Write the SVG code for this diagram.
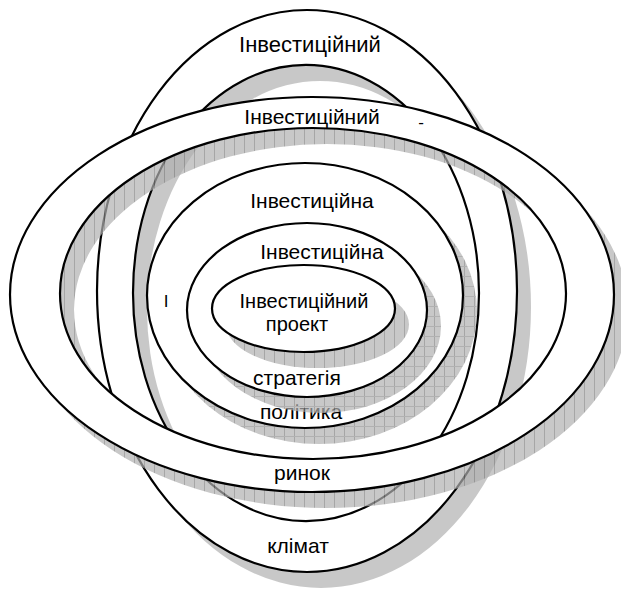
<svg xmlns="http://www.w3.org/2000/svg" xmlns:xlink="http://www.w3.org/1999/xlink" width="621" height="590" viewBox="0 0 621 590">
  <style>
    .ring { fill: #ffffff; fill-rule: evenodd; stroke: #000000; stroke-width: 2.2; }
    .shadow-plain { fill: #b0b0b0; fill-rule: evenodd; stroke: none; opacity: 0.7; }
    .shadow-vert { fill: url(#hatchV); fill-rule: evenodd; stroke: none; opacity: 0.7; }
    .shadow-grid { fill: url(#hatchG); fill-rule: evenodd; stroke: none; opacity: 0.7; }
    .lbl { font-family: "Liberation Sans", Arial, sans-serif; font-size: 21px; fill: #000000; text-anchor: middle; }
    .big { font-size: 22px; }
    .small { font-size: 20px; }
    .stray { font-family: "Liberation Sans", Arial, sans-serif; font-size: 17px; fill: #000000; text-anchor: middle; }
  </style>
  <defs>
    <pattern id="hatchV" patternUnits="userSpaceOnUse" width="10" height="10">
      <rect width="10" height="10" fill="#b0b0b0"/>
      <line x1="0.5" y1="0" x2="0.5" y2="10" stroke="#808080" stroke-width="1"/>
    </pattern>
    <pattern id="hatchG" patternUnits="userSpaceOnUse" width="10" height="10">
      <rect width="10" height="10" fill="#b0b0b0"/>
      <line x1="0.5" y1="0" x2="0.5" y2="10" stroke="#808080" stroke-width="1"/>
      <line x1="0" y1="0.5" x2="10" y2="0.5" stroke="#909090" stroke-width="1"/>
    </pattern>
    <path id="climateShape" d="M97,291 A210,281 0 1 0 517,291 A210,281 0 1 0 97,291 Z M133,293 A173,228 0 1 0 479,293 A173,228 0 1 0 133,293 Z"/>
    <path id="marketShape" d="M10,294.5 A302,197.5 0 1 0 614,294.5 A302,197.5 0 1 0 10,294.5 Z M60,293.5 A253,165.5 0 1 0 566,293.5 A253,165.5 0 1 0 60,293.5 Z"/>
    <ellipse id="policyShape" cx="305" cy="295.5" rx="158" ry="132.5"/>
    <ellipse id="strategyShape" cx="307" cy="310" rx="120" ry="87"/>
    <ellipse id="projectShape" cx="303.5" cy="308.5" rx="91.5" ry="43.5"/>
  </defs>

  <g id="climate">
    <use xlink:href="#climateShape" class="shadow-plain" transform="translate(14,16)"/>
    <use xlink:href="#climateShape" class="ring"/>
    <text class="lbl big" x="310" y="52">Інвестиційний</text>
    <text class="lbl" x="298" y="553">клімат</text>
  </g>

  <g id="market">
    <use xlink:href="#marketShape" class="shadow-vert" transform="translate(14,16)"/>
    <use xlink:href="#marketShape" class="ring"/>
    <text class="lbl" x="312" y="124">Інвестиційний</text>
    <text class="lbl" x="302" y="480">ринок</text>
  </g>

  <g id="policy">
    <use xlink:href="#policyShape" class="shadow-grid" transform="translate(14,16)"/>
    <use xlink:href="#policyShape" class="ring"/>
    <text class="lbl" x="312" y="208">Інвестиційна</text>
    <text class="lbl" x="301" y="419">політика</text>
  </g>

  <g id="strategy">
    <use xlink:href="#strategyShape" class="shadow-grid" transform="translate(14,16)"/>
    <use xlink:href="#strategyShape" class="ring"/>
    <text class="lbl" x="322" y="259">Інвестиційна</text>
    <text class="lbl" x="297" y="385">стратегія</text>
  </g>

  <g id="project">
    <use xlink:href="#projectShape" class="shadow-vert" transform="translate(14,16)"/>
    <use xlink:href="#projectShape" class="ring"/>
    <text class="lbl small" x="304" y="308">Інвестиційний</text>
    <text class="lbl small" x="297" y="331">проект</text>
  </g>

  <g id="connectors"/>

  <g id="marks">
    <text class="stray" x="166" y="307">І</text>
    <text class="stray" x="421" y="128">-</text>
  </g>
</svg>
